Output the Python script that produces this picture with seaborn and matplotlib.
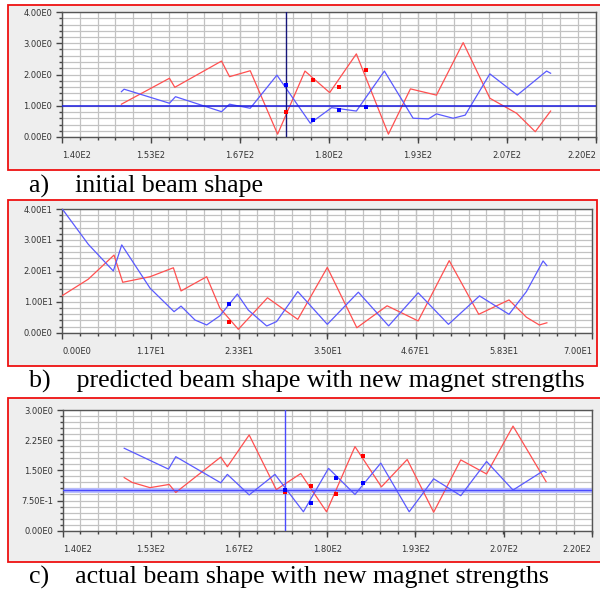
import matplotlib
matplotlib.use("Agg")
import matplotlib.pyplot as plt
import matplotlib.patches as mpatches
from matplotlib.ticker import AutoMinorLocator
import seaborn as sns
import pandas as pd

# ---------------- data ----------------
# a) initial beam shape
a_x_red = [148.9, 156.1, 156.9, 163.9, 165.1, 168.2, 172.3, 176.4, 180.1, 184.1, 188.9, 192.2, 196.1, 200.1, 204.1, 208.1, 210.9, 213.2]
a_y_red = [1.05, 1.88, 1.59, 2.43, 1.93, 2.12, 0.09, 2.11, 1.42, 2.66, 0.09, 1.54, 1.34, 3.02, 1.24, 0.76, 0.17, 0.83]
a_x_blue = [148.9, 149.3, 156.1, 157.0, 163.9, 165.1, 168.2, 172.2, 177.2, 180.4, 184.1, 188.3, 192.6, 194.9, 196.1, 198.6, 200.4, 204.1, 208.2, 212.6, 213.2]
a_y_blue = [1.45, 1.53, 1.08, 1.29, 0.81, 1.05, 0.92, 1.98, 0.44, 0.94, 0.83, 2.11, 0.60, 0.58, 0.74, 0.60, 0.70, 2.02, 1.34, 2.11, 2.04]
a_dot_x = [173.6, 177.6, 181.5, 185.5]
a_dot_red = [0.81, 1.82, 1.61, 2.14]
a_dot_blue = [1.65, 0.54, 0.86, 0.97]
a_xticks = [140, 153.33, 166.67, 180, 193.33, 206.67, 220]
a_xlabels = ["1.40E2", "1.53E2", "1.67E2", "1.80E2", "1.93E2", "2.07E2", "2.20E2"]
a_yticks = [0, 1, 2, 3, 4]
a_ylabels = ["0.00E0", "1.00E0", "2.00E0", "3.00E0", "4.00E0"]

# b) predicted beam shape
b_x_blue = [0, 3.43, 6.74, 7.85, 11.59, 14.76, 15.68, 17.53, 19.07, 20.83, 23.12, 24.57, 27.0, 28.3, 31.1, 35.0, 39.1, 43.1, 47.0, 51.0, 55.1, 59.0, 61.3, 63.5, 64.0]
b_y_blue = [40, 28.6, 19.95, 28.4, 14.4, 6.8, 8.6, 4.1, 2.5, 5.5, 12.5, 7.3, 2.17, 3.6, 13.3, 2.7, 13.1, 2.2, 12.9, 2.7, 11.9, 5.95, 13.3, 23.2, 21.7]
b_x_red = [0, 3.43, 6.83, 7.98, 11.59, 14.67, 15.68, 19.07, 20.8, 23.25, 27.1, 31.1, 35.0, 38.9, 42.9, 47.0, 51.1, 55.0, 59.0, 61.3, 63.0, 64.0]
b_y_red = [12.0, 17.3, 25.1, 16.3, 18.1, 21.0, 13.5, 18.1, 8.0, 1.1, 11.3, 4.3, 21.1, 1.6, 8.7, 3.8, 23.3, 5.95, 10.6, 5.0, 2.5, 3.2]
b_dot_x = [22.06]
b_dot_red = [3.36]
b_dot_blue = [9.28]
b_xticks = [0, 11.67, 23.33, 35, 46.67, 58.33, 70]
b_xlabels = ["0.00E0", "1.17E1", "2.33E1", "3.50E1", "4.67E1", "5.83E1", "7.00E1"]
b_yticks = [0, 10, 20, 30, 40]
b_ylabels = ["0.00E0", "1.00E1", "2.00E1", "3.00E1", "4.00E1"]

# c) actual beam shape
c_x_blue = [149.3, 156.0, 157.1, 163.9, 164.9, 168.2, 172.1, 176.4, 180.2, 184.2, 188.1, 192.4, 196.1, 200.2, 204.1, 208.1, 212.7, 213.1]
c_y_blue = [2.05, 1.53, 1.84, 1.19, 1.40, 0.89, 1.40, 0.47, 1.55, 0.90, 1.68, 0.47, 1.29, 0.87, 1.72, 1.01, 1.49, 1.45]
c_x_red = [149.3, 150.5, 153.2, 156.1, 157.1, 163.9, 164.9, 168.2, 172.3, 176.0, 179.9, 184.2, 188.2, 192.1, 196.1, 200.2, 204.1, 208.1, 213.1]
c_y_red = [1.32, 1.20, 1.07, 1.15, 0.95, 1.83, 1.59, 2.38, 1.02, 1.42, 0.47, 2.09, 1.09, 1.77, 0.46, 1.76, 1.41, 2.60, 1.22]
c_dot_x = [173.6, 177.5, 181.4, 185.4]
c_dot_red = [0.95, 1.11, 0.90, 1.86]
c_dot_blue = [1.01, 0.70, 1.30, 1.19]
c_xticks = a_xticks
c_xlabels = a_xlabels
c_yticks = [0, 0.75, 1.5, 2.25, 3.0]
c_ylabels = ["0.00E0", "7.50E-1", "1.50E0", "2.25E0", "3.00E0"]

captions = ["a)    initial beam shape",
            "b)    predicted beam shape with new magnet strengths",
            "c)    actual beam shape with new magnet strengths"]

RED = "#ff5050"
BLUE = "#5a5aff"

W, H = 600, 590
fig = plt.figure(figsize=(6, 5.9), dpi=100)
fig.patch.set_facecolor("white")


def fx(px):
    return px / W


def fy(py):
    return 1 - py / H


def panel(x0, y0, x1, y1):
    r = mpatches.Rectangle((fx(x0), fy(y1)), fx(x1) - fx(x0), fy(y0) - fy(y1),
                           transform=fig.transFigure, facecolor="#eeeeee",
                           edgecolor="#ee1111", lw=1.3, zorder=-10)
    fig.patches.append(r)


def make_axes(l, r, t, b):
    ax = fig.add_axes([fx(l), fy(b), fx(r) - fx(l), fy(t) - fy(b)])
    ax.set_zorder(5)
    return ax


def style(ax, xlim, ylim, xticks, xlabels, yticks, ylabels):
    ax.set_xlim(*xlim)
    ax.set_ylim(*ylim)
    ax.set_facecolor("white")
    ax.set_xticks(xticks)
    ax.set_xticklabels(xlabels)
    ax.set_yticks(yticks)
    ax.set_yticklabels(ylabels)
    ax.xaxis.set_minor_locator(AutoMinorLocator(5))
    ax.yaxis.set_minor_locator(AutoMinorLocator(5))
    ax.grid(which="both", color="#c2c2c2", lw=0.9, zorder=0)
    ax.set_axisbelow(True)
    ax.tick_params(which="major", direction="out", length=4, width=1, color="#444444",
                   labelsize=6, labelcolor="#333333", pad=6)
    ax.tick_params(which="minor", direction="out", length=2, width=1, color="#444444")
    ax.tick_params(axis="y", which="major", pad=3)
    for s in ax.spines.values():
        s.set_color("#555555")
        s.set_linewidth(1)
    labs = ax.get_xticklabels()
    labs[0].set_horizontalalignment("left")
    labs[-1].set_horizontalalignment("right")
    ax.set_xlabel("")
    ax.set_ylabel("")
    leg = ax.get_legend()
    if leg:
        leg.remove()


def curves(ax, xr, yr, xb, yb):
    dr = pd.DataFrame({"x": xr, "y": yr})
    db = pd.DataFrame({"x": xb, "y": yb})
    sns.lineplot(data=dr, x="x", y="y", ax=ax, color=RED, lw=0.9, sort=False, estimator=None, zorder=3)
    sns.lineplot(data=db, x="x", y="y", ax=ax, color=BLUE, lw=0.9, sort=False, estimator=None, zorder=3)


def dots(ax, dx, dr, db):
    sns.scatterplot(x=dx, y=dr, ax=ax, color="#ff0000", marker="s", s=11, linewidth=0, zorder=5)
    sns.scatterplot(x=dx, y=db, ax=ax, color="#0000ff", marker="s", s=11, linewidth=0, zorder=5)


# panel backgrounds
panel(8, 5, 603, 170)
panel(8, 200, 597, 366)
panel(8, 398, 603, 562)

# ---- a ----
axa = make_axes(62, 596, 12, 137)
curves(axa, a_x_red, a_y_red, a_x_blue, a_y_blue)
axa.axhline(1.0, color="#1a1adf", lw=1.1, zorder=4)
axa.axvline(a_dot_x[0], color="#16167a", lw=1.0, zorder=4)
dots(axa, a_dot_x, a_dot_red, a_dot_blue)
style(axa, (140, 220), (0, 4), a_xticks, a_xlabels, a_yticks, a_ylabels)

# ---- b ----
axb = make_axes(62.3, 592.3, 209, 332.7)
curves(axb, b_x_red, b_y_red, b_x_blue, b_y_blue)
dots(axb, b_dot_x, b_dot_red, b_dot_blue)
style(axb, (0, 70), (0, 40), b_xticks, b_xlabels, b_yticks, b_ylabels)

# ---- c ----
axc = make_axes(62.7, 591.7, 410, 530.7)
curves(axc, c_x_red, c_y_red, c_x_blue, c_y_blue)
axc.axhline(1.0, color="#b8bcff", lw=3.5, zorder=2)
axc.axhline(1.0, color="#4a4aff", lw=1.0, zorder=4)
axc.axvline(c_dot_x[0], color="#4a4aff", lw=1.0, zorder=4)
dots(axc, c_dot_x, c_dot_red, c_dot_blue)
style(axc, (140, 220), (0, 3), c_xticks, c_xlabels, c_yticks, c_ylabels)

# captions
for txt, y in zip(captions, [186, 381, 577]):
    fig.text(fx(29), fy(y), txt, ha="left", va="center", fontsize=18.6,
             family="Liberation Serif", color="black")

fig.savefig("out.png", dpi=100)
